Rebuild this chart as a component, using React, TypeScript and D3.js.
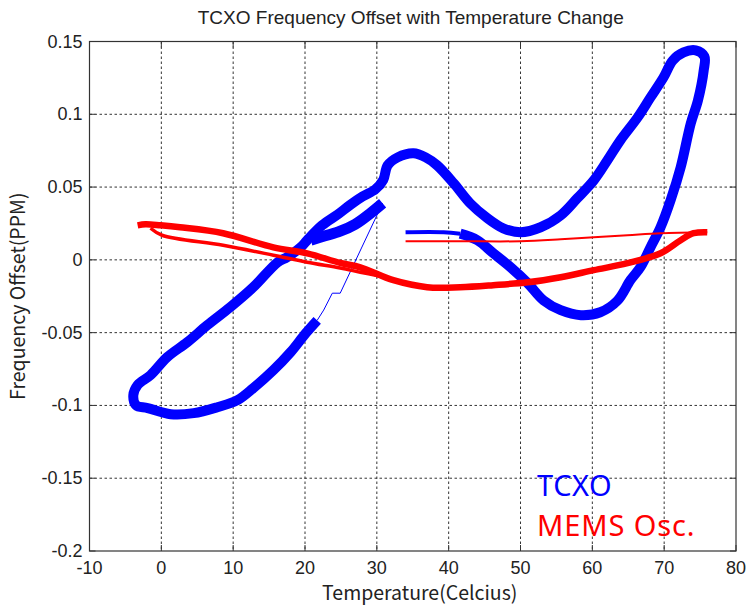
import React from "react";
import * as d3 from "d3";

const W = 747;
const H = 609;

const xTicks = [-10, 0, 10, 20, 30, 40, 50, 60, 70, 80];
const yTicks = [-0.2, -0.15, -0.1, -0.05, 0, 0.05, 0.1, 0.15];
const yTickLabels = ["-0.2", "-0.15", "-0.1", "-0.05", "0", "0.05", "0.1", "0.15"];

// TCXO (blue) – [temperature °C, offset ppm]
const tcxoTail: [number, number][] = [
  [34.0, 0.019], [39.3, 0.019], [41.6, 0.018],
];
const tcxoMain: [number, number][] = [
  [41.6, 0.018], [44.0, 0.0135], [46.2, 0.0046], [48.6, -0.005], [51.0, -0.016],
  [53.2, -0.0278], [55.6, -0.0346], [58.4, -0.038], [61.1, -0.036], [63.5, -0.028],
  [65.3, -0.014], [66.7, -0.005], [68.1, 0.0087], [69.5, 0.0224], [70.9, 0.041],
  [72.3, 0.0636], [73.7, 0.0937], [74.7, 0.1095], [75.5, 0.13], [75.6, 0.1397],
  [74.4, 0.1439], [72.7, 0.1425], [71.2, 0.137], [69.9, 0.1253], [68.1, 0.1116],
  [66.3, 0.0978], [63.9, 0.0821], [62.1, 0.0684], [60.2, 0.0546], [57.9, 0.0423],
  [55.6, 0.0306], [52.8, 0.0224], [50.0, 0.019], [47.6, 0.0217], [45.4, 0.0286],
  [43.0, 0.0388], [40.7, 0.0526], [38.4, 0.0649], [36.8, 0.0704], [35.1, 0.0732],
  [32.9, 0.0704], [31.5, 0.0649], [30.9, 0.055], [29.8, 0.0485], [28.0, 0.0435],
  [26.3, 0.0378], [24.5, 0.031], [22.4, 0.0238], [20.3, 0.0135], [19.4, 0.0086],
  [17.5, 0.0018], [16.2, -0.0016], [12.8, -0.0188], [9.6, -0.0325], [6.4, -0.0449],
  [3.6, -0.0566], [0.8, -0.0669], [-1.5, -0.0792], [-3.3, -0.086], [-3.9, -0.093],
  [-3.5, -0.1], [-1.9, -0.1018], [1.3, -0.106], [4.5, -0.1053], [7.8, -0.1012],
  [10.6, -0.0964], [12.8, -0.0881], [15.6, -0.0758], [18.0, -0.0634], [20.1, -0.0504],
  [21.7, -0.0415],
];
const tcxoJump: [number, number][] = [
  [21.7, -0.0415], [22.6, -0.0345], [23.8, -0.0229], [24.9, -0.0229], [30.8, 0.0389],
];
const tcxoEnd: [number, number][] = [
  [30.8, 0.0389], [29.1, 0.032], [27.0, 0.0245], [24.9, 0.0197], [22.8, 0.0165], [20.8, 0.0135],
];

// MEMS oscillator (red)
const memsTail: [number, number][] = [
  [34.0, 0.0128], [41.6, 0.0128], [50.0, 0.0128], [55.6, 0.0141], [60.2, 0.0155],
  [64.9, 0.0169], [69.5, 0.0183], [76.0, 0.019],
];
const memsMain: [number, number][] = [
  [76.0, 0.019], [74.1, 0.0183], [72.3, 0.0135], [69.5, 0.0045], [64.9, -0.0023],
  [60.2, -0.0071], [55.6, -0.0119], [51.0, -0.0154], [46.2, -0.0174], [41.6, -0.0188],
  [37.0, -0.0188], [32.3, -0.014], [27.7, -0.0051], [24.9, -0.0021], [20.3, 0.0045],
  [15.6, 0.0086], [8.6, 0.0183], [2.6, 0.0224], [-0.1, 0.0237], [-2.2, 0.0244], [-3.3, 0.0237],
];
const memsReturn: [number, number][] = [
  [-1.5, 0.0217], [0.1, 0.0169], [8.6, 0.01], [15.6, 0.0032], [20.3, -0.0016],
  [24.9, -0.0056], [27.7, -0.0085], [30.5, -0.0113],
];

const BLUE = "#0000ff";
const RED = "#ff0000";

export default function App() {
  const left = 89.5, right = 736, top = 41.5, bottom = 551;
  const x = d3.scaleLinear().domain([-10, 80]).range([left, right]);
  const y = d3.scaleLinear().domain([-0.2, 0.15]).range([bottom, top]);
  const smooth = d3.line<[number, number]>().x(d => x(d[0])).y(d => y(d[1])).curve(d3.curveCatmullRom.alpha(0.5));
  const straight = d3.line<[number, number]>().x(d => x(d[0])).y(d => y(d[1]));
  const tickFont = "'Liberation Sans', Arial, sans-serif";
  const labelFont = "'Noto Sans CJK KR', 'Noto Sans', sans-serif";
  const legendFont = "'Noto Sans', sans-serif";

  return (
    <svg width={W} height={H} style={{ position: "absolute", left: 0, top: 0, background: "#fff" }}>
      <rect x={0} y={0} width={W} height={H} fill="#fff" />
      <defs>
        <clipPath id="clip"><rect x={left} y={top} width={right - left} height={bottom - top} /></clipPath>
      </defs>
      {/* grid */}
      {xTicks.slice(1, -1).map(t => (
        <line key={"gx" + t} x1={x(t)} x2={x(t)} y1={top} y2={bottom} stroke="#333" strokeWidth={1} strokeDasharray="2.5,2.5" />
      ))}
      {yTicks.slice(1, -1).map(t => (
        <line key={"gy" + t} x1={left} x2={right} y1={y(t)} y2={y(t)} stroke="#333" strokeWidth={1} strokeDasharray="2.5,2.5" />
      ))}
      {/* data */}
      <g clipPath="url(#clip)" strokeLinejoin="round" fill="none">
        <path d={straight(tcxoJump) || ""} stroke={BLUE} strokeWidth={1} />
        <path d={smooth(tcxoTail) || ""} stroke={BLUE} strokeWidth={4} />
        <path d={smooth(tcxoMain) || ""} stroke={BLUE} strokeWidth={10} />
        <path d={smooth(tcxoEnd) || ""} stroke={BLUE} strokeWidth={11} />
        <path d={smooth(memsTail) || ""} stroke={RED} strokeWidth={2} />
        <path d={smooth(memsReturn) || ""} stroke={RED} strokeWidth={3.5} />
        <path d={smooth(memsMain) || ""} stroke={RED} strokeWidth={6.5} />
      </g>
      {/* axes box */}
      <rect x={left} y={top} width={right - left} height={bottom - top} fill="none" stroke="#333" strokeWidth={1.2} />
      {xTicks.map(t => (
        <g key={"xt" + t}>
          <line x1={x(t)} x2={x(t)} y1={bottom} y2={bottom - 6} stroke="#333" />
          <line x1={x(t)} x2={x(t)} y1={top} y2={top + 6} stroke="#333" />
          <text x={x(t)} y={bottom + 23} textAnchor="middle" fontFamily={tickFont} fontSize={18} fill="#222">{t}</text>
        </g>
      ))}
      {yTicks.map((t, i) => (
        <g key={"yt" + t}>
          <line x1={left} x2={left + 6} y1={y(t)} y2={y(t)} stroke="#333" />
          <line x1={right} x2={right - 6} y1={y(t)} y2={y(t)} stroke="#333" />
          <text x={left - 7} y={y(t) + 6} textAnchor="end" fontFamily={tickFont} fontSize={18} fill="#222">{yTickLabels[i]}</text>
        </g>
      ))}
      <text x={(left + right) / 2 - 2} y={24} textAnchor="middle" fontFamily={tickFont} fontSize={19} fill="#222">
        TCXO Frequency Offset with Temperature Change
      </text>
      <text x={(left + right) / 2 + 7} y={600} textAnchor="middle" fontFamily={labelFont} fontSize={19.5} fill="#222">
        Temperature(Celcius)
      </text>
      <text transform={`translate(25, ${(top + bottom) / 2}) rotate(-90)`} textAnchor="middle" fontFamily={labelFont} fontSize={19.5} fill="#222">
        Frequency Offset(PPM)
      </text>
      <text x={537} y={496} fontFamily={legendFont} fontSize={29} letterSpacing={0.6} fill={BLUE}>TCXO</text>
      <text x={537} y={536} fontFamily={legendFont} fontSize={29} letterSpacing={0.9} fill={RED}>MEMS Osc.</text>
    </svg>
  );
}
